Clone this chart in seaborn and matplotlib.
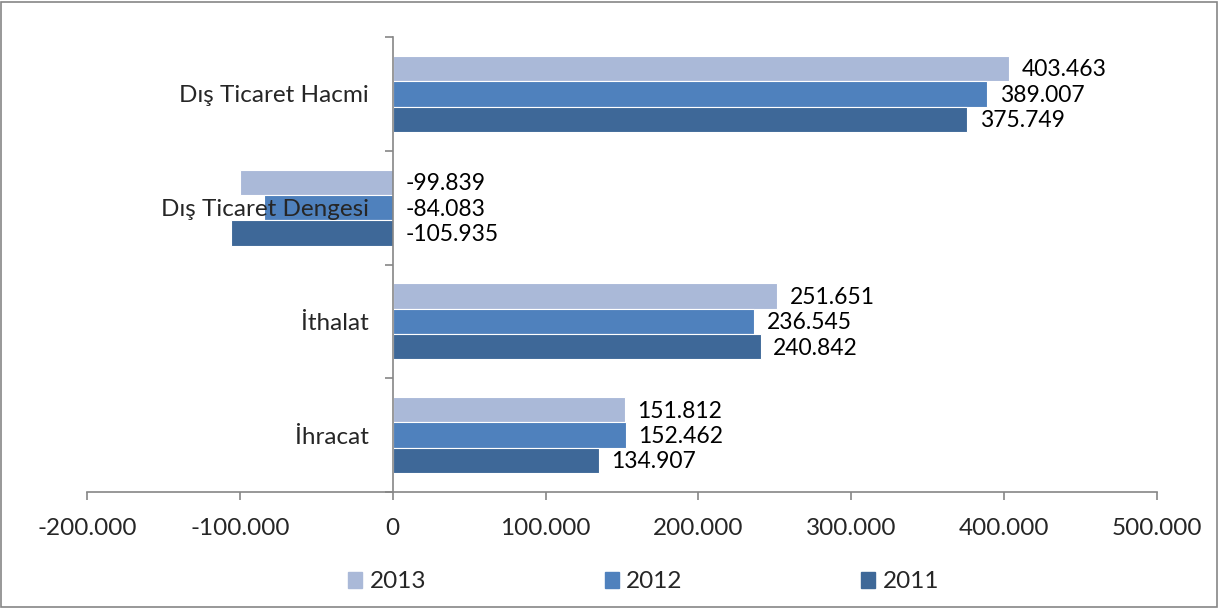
import matplotlib
matplotlib.use("Agg")
import matplotlib.pyplot as plt
import matplotlib.patches as mpatches
import pandas as pd
import seaborn as sns
import numpy as np

# data
categories = ["Dış Ticaret Hacmi", "Dış Ticaret Dengesi", "İthalat", "İhracat"]
years = ["2013", "2012", "2011"]
values_2013 = [403463, -99839, 251651, 151812]
values_2012 = [389007, -84083, 236545, 152462]
values_2011 = [375749, -105935, 240842, 134907]
xticks = [-200000, -100000, 0, 100000, 200000, 300000, 400000, 500000]

colors = ["#AAB9D8", "#4F81BD", "#3E6898"]
axis_gray = "#868686"

rows = []
for yr, vals in zip(years, [values_2013, values_2012, values_2011]):
    for cat, v in zip(categories, vals):
        rows.append({"cat": cat, "year": yr, "value": v})
df = pd.DataFrame(rows)

sns.set_style("white")
plt.rcParams["font.family"] = ["Lato", "DejaVu Sans"]

fig = plt.figure(figsize=(12.19, 6.08), dpi=100)
ax = fig.add_axes([87 / 1219, 1 - 492 / 608, 1070 / 1219, 455 / 608])

sns.barplot(data=df, y="cat", x="value", hue="year", hue_order=years,
            order=categories, palette=colors, saturation=1, orient="h", width=0.67,
            gap=0, ax=ax, legend=False, linewidth=0.8, edgecolor="white")


def fmt(v):
    return f"{v:,.0f}".replace(",", ".")


# data labels
for cont in ax.containers:
    for bar in cont:
        w = bar.get_width()
        yc = bar.get_y() + bar.get_height() / 2
        x0 = max(w, 0)
        ax.annotate(fmt(w), (x0, yc), xytext=(9, -1), textcoords="offset points",
                    ha="left", va="center", fontsize=16.5, color="black")

ax.set_xlim(-200000, 500000)
ax.set_xticks(xticks)
ax.set_xticklabels([fmt(t) for t in xticks], fontsize=17.5)
ax.set_ylim(3.5, -0.5)
ax.set_axisbelow(False)

# y axis at zero, ticks on category boundaries, labels at centers
ax.spines["left"].set_position(("data", 0))
ax.spines["right"].set_visible(False)
ax.spines["top"].set_visible(False)
for s in ["left", "bottom"]:
    ax.spines[s].set_color(axis_gray)
    ax.spines[s].set_linewidth(1.2)
ax.set_yticks(np.arange(-0.5, 4, 1))
ax.set_yticklabels([])
ax.set_yticks(np.arange(len(categories)), minor=True)
ax.set_yticklabels(categories, minor=True, fontsize=17.5)
ax.tick_params(axis="y", which="major", left=True, direction="out", length=6,
               color=axis_gray, width=1.2)
ax.tick_params(axis="y", which="minor", left=True, length=0, pad=17)
ax.tick_params(axis="x", bottom=True, direction="out", length=6, color=axis_gray,
               width=1.2, pad=13)
ax.set_xlabel("")
ax.set_ylabel("")

# legend
handles = [mpatches.Patch(color=c, label=y) for c, y in zip(colors, years)]
fig.legend(handles=handles, loc="center", bbox_to_anchor=(0.528, 0.043), ncol=3,
           frameon=False, fontsize=17.5, handlelength=0.58, handleheight=0.62,
           handletextpad=0.3, columnspacing=7.35)

# outer border
fig.patches.append(mpatches.Rectangle((0.001, 0.002), 0.997, 0.995, transform=fig.transFigure,
                                      fill=False, edgecolor=axis_gray, linewidth=1.2))

fig.savefig("out.png", dpi=100)
